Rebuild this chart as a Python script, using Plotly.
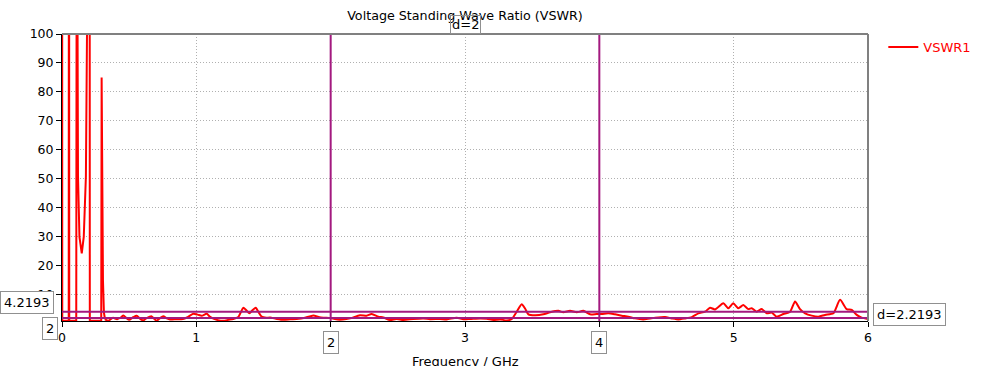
import plotly.graph_objects as go

# ---- data ----
freq_ghz = [
    0.000, 0.002, 0.050, 0.052, 0.054, 0.106, 0.109, 0.113, 0.116, 0.119, 0.130, 0.147, 0.162, 0.178,
    0.186, 0.200, 0.205, 0.207, 0.292, 0.295, 0.300, 0.305, 0.312, 0.320,
    0.345, 0.380, 0.410, 0.440, 0.457, 0.480, 0.500, 0.530, 0.556, 0.580, 0.605, 0.630, 0.668,
    0.690, 0.705, 0.730, 0.754, 0.780, 0.804, 0.850, 0.900, 0.930, 0.978, 1.010, 1.040, 1.077,
    1.100, 1.127, 1.160, 1.200, 1.240, 1.275, 1.313, 1.350, 1.370, 1.394, 1.420, 1.442, 1.465,
    1.486, 1.520, 1.548, 1.600, 1.648, 1.700, 1.747, 1.800, 1.871, 1.910, 1.945, 2.000, 2.050,
    2.090, 2.144, 2.218, 2.268, 2.305, 2.355, 2.392, 2.442, 2.491, 2.541, 2.615, 2.690, 2.740,
    2.814, 2.864, 2.938, 2.988, 3.038, 3.112, 3.162, 3.211, 3.261, 3.310, 3.348, 3.385, 3.422,
    3.447, 3.472, 3.521, 3.583, 3.633, 3.695, 3.732, 3.782, 3.832, 3.881, 3.931, 3.980, 4.018,
    4.067, 4.117, 4.167, 4.216, 4.266, 4.327, 4.377, 4.439, 4.489, 4.539, 4.588, 4.638, 4.688,
    4.737, 4.787, 4.824, 4.861, 4.923, 4.960, 4.997, 5.035, 5.072, 5.109, 5.134, 5.171, 5.209,
    5.246, 5.283, 5.320, 5.370, 5.420, 5.457, 5.494, 5.532, 5.581, 5.631, 5.680, 5.742, 5.792,
    5.841, 5.879, 5.916, 5.953, 6.000,
]
vswr1 = [
    300, 1.05, 1.05, 300, 1.05, 1.05, 300, 300, 100, 51, 30, 24.3, 30, 51,
    100, 300, 300, 1.05, 1.05, 85, 45, 15, 4.0, 1.6,
    1.1, 2.1, 1.6, 2.3, 2.9, 2.0, 1.4, 2.3, 2.8, 1.8, 1.2, 2.0, 2.6,
    1.6, 1.1, 2.0, 2.6, 1.9, 1.5, 1.6, 1.7, 2.2, 3.5, 3.2, 2.8, 3.5,
    2.5, 1.8, 1.3, 1.05, 1.4, 1.7, 2.4, 5.6, 4.8, 3.7, 4.8, 5.6, 3.9,
    2.5, 2.1, 2.2, 1.7, 1.4, 1.6, 1.7, 2.0, 2.9, 2.4, 2.15, 2.0, 1.5,
    1.5, 1.9, 3.0, 2.85, 3.4, 2.5, 2.2, 1.35, 1.7, 1.35, 1.7, 1.9, 1.6,
    1.7, 1.55, 2.15, 1.6, 1.7, 1.9, 1.8, 1.35, 1.55, 1.2, 1.7, 4.2, 6.8,
    5.3, 3.3, 3.0, 3.3, 4.0, 4.5, 4.0, 4.5, 4.0, 4.5, 3.3, 3.4, 3.4,
    3.65, 3.3, 2.85, 2.5, 1.9, 1.55, 1.9, 2.25, 2.35, 1.9, 1.55, 1.9, 2.35,
    3.65, 4.2, 5.6, 5.0, 7.1, 5.4, 7.1, 5.4, 6.5, 5.1, 5.4, 4.2, 5.1,
    3.65, 3.9, 2.5, 3.4, 4.2, 7.7, 5.1, 3.65, 2.85, 2.5, 3.1, 3.65, 8.3,
    5.1, 4.8, 3.1, 2.15, 1.7,
]
series_name = "VSWR1"
marker_freqs = [2, 4]
marker_levels = [4.2193, 2]
x_ticks = [0, 1, 2, 3, 4, 5, 6]
y_ticks = [10, 20, 30, 40, 50, 60, 70, 80, 90, 100]
title_text = "Voltage Standing Wave Ratio (VSWR)"
x_title = "Frequency / GHz"

FONT = "DejaVu Sans"
PURPLE = "#a3197f"
RED = "#ff0000"

# low-frequency resonance region is drawn with straight segments, the rest smoothed
split = 24
fig = go.Figure()
fig.add_trace(go.Scatter(
    x=freq_ghz[:split], y=vswr1[:split], mode="lines", name=series_name, legendgroup="v",
    line=dict(color=RED, width=2, shape="linear"),
))
fig.add_trace(go.Scatter(
    x=freq_ghz[split - 1:], y=vswr1[split - 1:], mode="lines", name=series_name, legendgroup="v",
    showlegend=False, line=dict(color=RED, width=2, shape="spline", smoothing=0.6),
))

# marker lines
for f in marker_freqs:
    fig.add_shape(type="line", xref="x", yref="paper", x0=f, x1=f, y0=0, y1=1,
                  line=dict(color=PURPLE, width=2))
for lv in marker_levels:
    fig.add_shape(type="line", xref="paper", yref="y", x0=0, x1=1, y0=lv, y1=lv,
                  line=dict(color=PURPLE, width=2))

# top / right frame
fig.add_shape(type="line", xref="paper", yref="paper", x0=0, x1=1, y0=1, y1=1,
              line=dict(color="#808080", width=2))
fig.add_shape(type="line", xref="paper", yref="paper", x0=1, x1=1, y0=0, y1=1,
              line=dict(color="#808080", width=2))

box = dict(bordercolor="#909090", borderwidth=1, borderpad=3, bgcolor="white",
           showarrow=False, font=dict(family=FONT, size=13, color="black"))

# marker labels
fig.add_annotation(x=0, xref="paper", y=marker_levels[0], yref="y", text=f"{marker_levels[0]:.4f}",
                   xanchor="right", yanchor="bottom", xshift=-8, yshift=-2, **box)
fig.add_annotation(x=0, xref="paper", y=marker_levels[1], yref="y", text=f"{marker_levels[1]:g}",
                   xanchor="right", yanchor="top", xshift=-4, yshift=1, **box)
for f in marker_freqs:
    fig.add_annotation(x=f, xref="x", y=0, yref="paper", text=f"{f:g}",
                       xanchor="center", yanchor="top", yshift=-10, **box)
fig.add_annotation(x=(marker_freqs[0] + marker_freqs[1]) / 2, xref="x", y=1, yref="paper",
                   text=f"d={marker_freqs[1] - marker_freqs[0]:g}", xanchor="center", yanchor="bottom",
                   yshift=0, **{**box, "bgcolor": "rgba(0,0,0,0)", "borderpad": 1})
fig.add_annotation(x=1, xref="paper", y=(marker_levels[0] + marker_levels[1]) / 2, yref="y",
                   text=f"d={marker_levels[0] - marker_levels[1]:.4f}", xanchor="left", yanchor="middle",
                   xshift=5, **box)

# x-axis title
fig.add_annotation(x=0.5, xref="paper", y=0, yref="paper", text=x_title, showarrow=False,
                   xanchor="center", yanchor="top", yshift=-31,
                   font=dict(family=FONT, size=13, color="black"))

fig.update_xaxes(
    range=[0, 6], tickvals=x_ticks, ticktext=[str(t) for t in x_ticks], automargin=False,
    showgrid=True, gridcolor="#b0b0b0", griddash="1px,2px", gridwidth=1,
    ticks="outside", ticklen=5, tickcolor="black",
    showline=True, linecolor="black", linewidth=1, zeroline=False,
    tickfont=dict(family=FONT, size=12.5, color="black"),
)
fig.update_yaxes(
    range=[1, 100], tickvals=y_ticks, automargin=False,
    showgrid=True, gridcolor="#b0b0b0", griddash="1px,2px", gridwidth=1,
    ticks="outside", ticklen=5, tickcolor="black",
    showline=True, linecolor="black", linewidth=1, zeroline=False,
    tickfont=dict(family=FONT, size=12.5, color="black"),
)

fig.update_layout(
    width=1000, height=366,
    margin=dict(l=62, r=132, t=34, b=45, autoexpand=False),
    plot_bgcolor="white", paper_bgcolor="white",
    title=dict(text=title_text, x=0.5, xanchor="center", xref="paper",
               y=1 - 16 / 366, yref="container", yanchor="middle", automargin=False,
               font=dict(family=FONT, size=12.7, color="black")),
    showlegend=True,
    legend=dict(x=1.019, xanchor="left", y=1.007, yanchor="top",
                font=dict(family=FONT, size=13, color=RED), bgcolor="rgba(0,0,0,0)"),
)

fig.write_html("out.html", config={"displayModeBar": False},
               post_script="document.body.style.margin='0';")
